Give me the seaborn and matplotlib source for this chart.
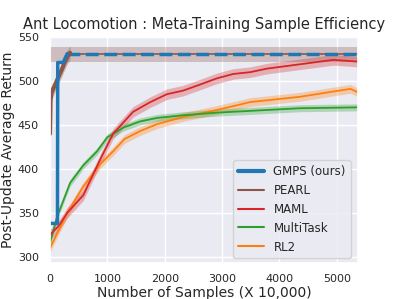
import matplotlib
matplotlib.use("Agg")
import matplotlib.pyplot as plt
import seaborn as sns
import numpy as np
import pandas as pd

# 数据
gmps_x = [0, 130, 135, 230, 300]
gmps_y = [338, 338, 521, 521, 531]
gmps_final = 531

pearl_x = [0, 10, 25, 50, 100, 150, 200, 250, 300, 350]
pearl_y = [440, 478, 486, 490, 497, 505, 512, 520, 527, 532]
pearl_lo = [340, 455, 476, 482, 489, 497, 504, 512, 519, 524]
pearl_hi = [470, 492, 495, 498, 505, 513, 520, 528, 535, 540]
pearl_final = 531
pearl_final_lo = 522
pearl_final_hi = 539

maml_x = [0, 150, 300, 580, 870, 1100, 1450, 1750, 2040, 2320, 2620, 2910,
          3200, 3490, 3780, 4360, 4940, 5370]
maml_y = [325, 335, 350, 370, 410, 440, 465, 476, 485, 489, 496, 503,
          508, 510, 514, 519, 524, 522]
maml_std = 6

multi_x = [0, 120, 350, 580, 820, 1000, 1280, 1570, 1870, 2320, 2910,
           3490, 4360, 5370]
multi_y = [316, 345, 384, 404, 420, 436, 447, 454, 458, 461, 464,
           466, 469, 470]
multi_std = 4

rl2_x = [0, 150, 300, 580, 870, 1100, 1300, 1570, 1870, 2320, 2910,
         3490, 4360, 4940, 5240, 5370]
rl2_y = [310, 330, 350, 380, 405, 420, 434, 443, 451, 459, 467,
         476, 482, 488, 491, 487]
rl2_std = 5

xmax = 5370

sns.set_theme(style="darkgrid")
plt.rcParams['font.family'] = ['DejaVu Sans']

fig = plt.figure(figsize=(3.99, 2.99), dpi=100)
ax = fig.add_axes([50 / 399, 36 / 299, 308 / 399, 226 / 299])

# matplotlib 默认 tab10 颜色
pal = sns.color_palette('tab10')
c_gmps, c_rl2, c_multi, c_maml, c_pearl = pal[0], pal[1], pal[2], pal[3], pal[5]

# 渐近线 (GMPS / PEARL 最终性能)
ax.fill_between([0, xmax], pearl_final_lo, pearl_final_hi, color=c_pearl, alpha=0.3, lw=0)
ax.plot([300, xmax], [pearl_final, pearl_final], color=c_pearl, lw=1.2)
ax.plot([300, xmax], [gmps_final, gmps_final], color=c_gmps, lw=2.5, ls='--')

for xs, ys, std, c, name in [
    (rl2_x, rl2_y, rl2_std, c_rl2, 'RL2'),
    (multi_x, multi_y, multi_std, c_multi, 'MultiTask'),
    (maml_x, maml_y, maml_std, c_maml, 'MAML'),
]:
    df = pd.DataFrame({'x': xs, 'y': ys})
    ax.fill_between(df.x, df.y - std, df.y + std, color=c, alpha=0.3, lw=0)
    sns.lineplot(data=df, x='x', y='y', color=c, lw=1.3, ax=ax)

ax.fill_between(pearl_x, pearl_lo, pearl_hi, color=c_pearl, alpha=0.35, lw=0)
sns.lineplot(x=pearl_x, y=pearl_y, color=c_pearl, lw=3, ax=ax)
sns.lineplot(x=gmps_x, y=gmps_y, color=c_gmps, lw=2.5, ax=ax)

handles = [
    plt.Line2D([], [], color=c_gmps, lw=3),
    plt.Line2D([], [], color=c_pearl, lw=1.5),
    plt.Line2D([], [], color=c_maml, lw=1.5),
    plt.Line2D([], [], color=c_multi, lw=1.5),
    plt.Line2D([], [], color=c_rl2, lw=1.5),
]
ax.legend(handles, ['GMPS (ours)', 'PEARL', 'MAML', 'MultiTask', 'RL2'],
          loc='lower right', fontsize=8.5, handlelength=2.2,
          bbox_to_anchor=(0.995, -0.005))

ax.set_xlim(0, xmax)
ax.set_ylim(293, 550)
ax.set_yticks([300, 350, 400, 450, 500, 550])
ax.set_xticks([0, 1000, 2000, 3000, 4000, 5000])
ax.tick_params(labelsize=8, pad=2)
ax.set_title('Ant Locomotion : Meta-Training Sample Efficiency', fontsize=10.5, pad=6)
ax.set_xlabel('Number of Samples (X 10,000)', fontsize=10, labelpad=1)
ax.set_ylabel('Post-Update Average Return', fontsize=10, labelpad=2)

fig.savefig('out.png', dpi=100)
